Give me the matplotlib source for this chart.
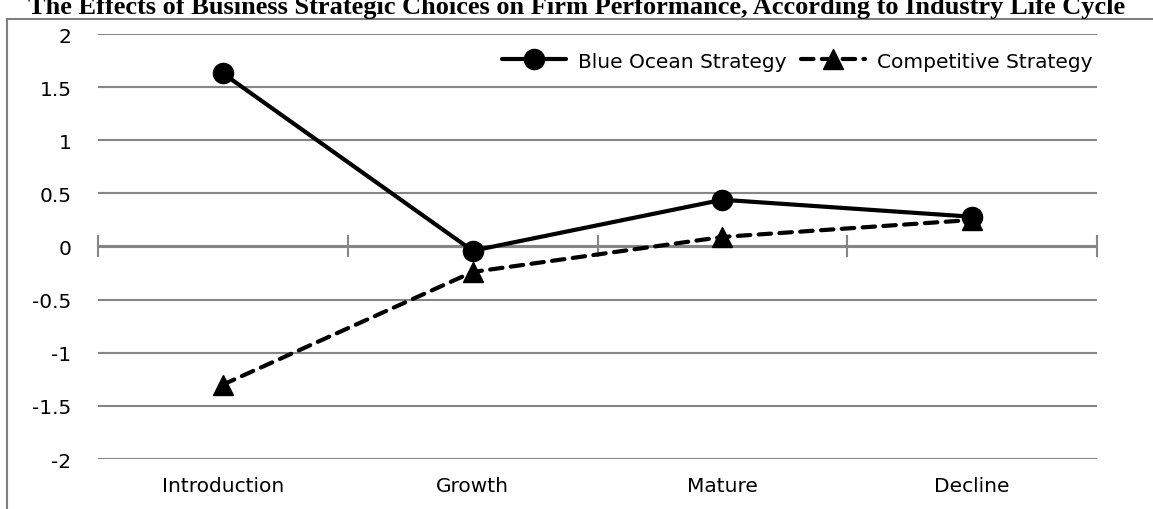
import numpy as np
import matplotlib.pyplot as plt
from matplotlib.patches import Rectangle

# industry life-cycle stages and the two strategy series
stages = ["Introduction", "Growth", "Mature", "Decline"]
blue_ocean = [1.63, -0.04, 0.44, 0.28]
competitive = [-1.30, -0.24, 0.09, 0.25]
y_ticks = [-2, -1.5, -1, -0.5, 0, 0.5, 1, 1.5, 2]
y_labels = ["-2", "-1.5", "-1", "-0.5", "0", "0.5", "1", "1.5", "2"]

title = ("The Effects of Business Strategic Choices on Firm Performance, "
         "According to Industry Life Cycle")

W, H = 1153, 510
fig = plt.figure(figsize=(W / 100, H / 100), dpi=100)
ax = fig.add_axes([98 / W, (H - 460) / H, (1097 - 98) / W, 425 / H])

grid_col = "#868686"
lab_font = "DejaVu Sans"
lab_size = 14.5

x = np.arange(len(stages))
ax.plot(x, blue_ocean, color="black", lw=3.0, marker="o", ms=14.5,
        label="Blue Ocean Strategy", solid_capstyle="round", zorder=4)
ax.plot(x, competitive, color="black", lw=3.0, ls=(0, (3, 2)), marker="^",
        ms=14, label="Competitive Strategy", dash_capstyle="round", zorder=3)

ax.set_xlim(-0.5, len(stages) - 0.5)
ax.set_ylim(-2, 2)

for s in ax.spines.values():
    s.set_visible(False)

ax.set_yticks(y_ticks)
ax.set_yticklabels(y_labels, fontfamily=lab_font, fontsize=lab_size)
ax.tick_params(axis="y", length=0, pad=19)
ax.yaxis.grid(True, color=grid_col, lw=1.5)
ax.set_axisbelow(True)

ax.set_xticks(x)
ax.set_xticklabels(stages, fontfamily=lab_font, fontsize=lab_size)
ax.tick_params(axis="x", length=0, pad=12)

# zero line with cross ticks between categories
zero_ax = ax.secondary_xaxis(0.5)
for s in zero_ax.spines.values():
    s.set_color(grid_col)
    s.set_linewidth(1.5)
zero_ax.set_xticks(np.arange(-0.5, len(stages), 1.0))
zero_ax.set_xticklabels([])
zero_ax.tick_params(axis="x", direction="inout", length=16, width=1.5,
                    color=grid_col, labeltop=False, labelbottom=False)

leg = ax.legend(loc="center right", ncol=2, frameon=False,
                bbox_to_anchor=(1.0, (460 - 62) / 425), handlelength=3.2,
                columnspacing=0.7, handletextpad=0.6, borderaxespad=0.0,
                borderpad=0.2, prop={"family": lab_font, "size": lab_size})

# outer frame and clipped heading
fig.patches.append(Rectangle((7 / W, -0.1), 1.2, (H - 20) / H + 0.1,
                             transform=fig.transFigure, fill=False,
                             edgecolor="#808080", lw=1.5))
fig.text(0.5, 1.0 - 14 / H, title, ha="center", va="baseline",
         fontfamily="Liberation Serif", fontweight="bold", fontsize=19)

fig.savefig("out.png", dpi=100)
